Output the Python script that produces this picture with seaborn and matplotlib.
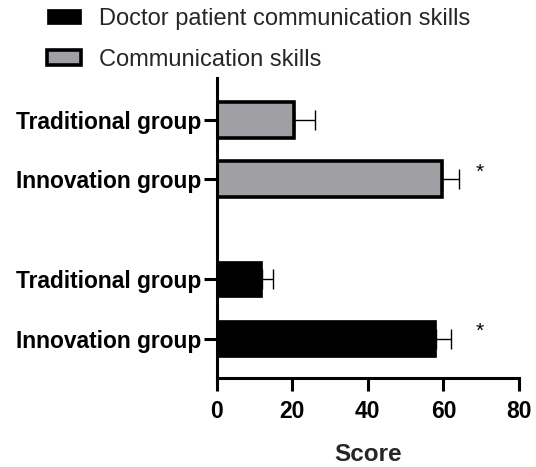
import matplotlib
matplotlib.use("Agg")
import matplotlib.pyplot as plt
import seaborn as sns
import pandas as pd
from matplotlib.patches import Patch

# ---- data ----
groups = ["Traditional group", "Innovation group"]
series = ["Doctor patient communication skills", "Communication skills"]
dpcs_mean = [12.0, 58.0]
dpcs_err = [3.0, 4.0]
cs_mean = [20.5, 59.5]
cs_err = [5.5, 4.5]
x_ticks = [0, 20, 40, 60, 80]
x_label = "Score"
significance = ["", "*"]

sns.set_theme(style="ticks")
plt.rcParams["font.family"] = ["Liberation Sans", "DejaVu Sans"]

fig = plt.figure(figsize=(5.36, 4.67), dpi=100)
ax = fig.add_axes([216.7 / 536, 1 - 378 / 467, (519 - 216.7) / 536, 300 / 467])

# layout positions (top block: Communication skills, bottom block: Doctor patient)
pos_cs = [0.7, 1.7]
pos_dp = [3.37, 4.37]

df_cs = pd.DataFrame({"score": cs_mean, "pos": pos_cs, "group": groups})
df_dp = pd.DataFrame({"score": dpcs_mean, "pos": pos_dp, "group": groups})

sns.barplot(data=df_cs, x="score", y="pos", orient="h", native_scale=True,
            width=0.6, color="#a0a0a4", edgecolor="black", linewidth=2.6,
            saturation=1, ax=ax, errorbar=None)
sns.barplot(data=df_dp, x="score", y="pos", orient="h", native_scale=True,
            width=0.62, color="black", edgecolor="black", linewidth=0.5,
            saturation=1, ax=ax, errorbar=None)

for df, err in ((df_cs, cs_err), (df_dp, dpcs_err)):
    ax.errorbar(df["score"], df["pos"], xerr=[[0] * len(err), err], fmt="none",
                ecolor="black", elinewidth=1.0, capsize=7, capthick=1.0, zorder=1)
    for s, p, sig in zip(df["score"], df["pos"], significance):
        if sig:
            ax.text(69.6, p - 0.12, sig, ha="center", va="center", fontsize=15,
                    color="black")

ax.set_ylim(5.03, 0)
ax.set_xlim(0, 80)
ax.set_xticks(x_ticks)
ax.set_xticklabels([str(t) for t in x_ticks], fontsize=16.5, fontweight="bold")
ax.set_yticks(pos_cs + pos_dp)
ax.set_yticklabels(groups + groups, fontsize=16.4, fontweight="bold")
ax.set_xlabel(x_label, fontsize=17.5, fontweight="bold", labelpad=15)
ax.set_ylabel("")
sns.despine(ax=ax)
for sp in ("left", "bottom"):
    ax.spines[sp].set_linewidth(2.2)
    ax.spines[sp].set_color("black")
ax.tick_params(axis="both", width=2.2, length=9.5, color="black", labelcolor="black")
ax.tick_params(axis="x", pad=6)
ax.tick_params(axis="y", pad=1.5)

handles = [Patch(facecolor="black", edgecolor="black", linewidth=0.5),
           Patch(facecolor="#a0a0a4", edgecolor="black", linewidth=2.6)]
fig.legend(handles, series, loc="upper left", bbox_to_anchor=(47 / 536, 1 - 8 / 467),
           frameon=False, fontsize=17, handlelength=1.44, handleheight=0.6,
           handletextpad=0.76, labelspacing=0.8, borderpad=0, borderaxespad=0)

fig.savefig("out.png", dpi=100)
